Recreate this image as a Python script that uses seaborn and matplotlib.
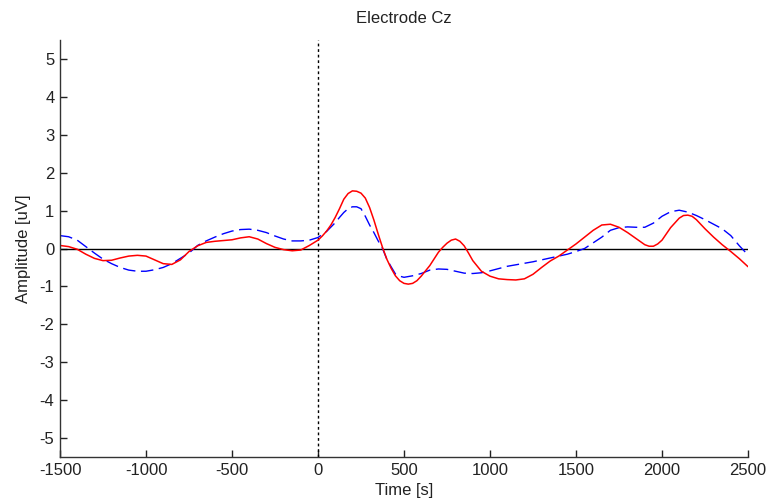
import numpy as np
import pandas as pd
import matplotlib
matplotlib.use("Agg")
import matplotlib.pyplot as plt
import seaborn as sns

red_times = [-1500, -1450, -1400, -1350, -1300, -1250, -1200, -1150, -1100, -1050,
             -1000, -950, -900, -850, -800, -750, -700, -650, -600, -550,
             -500, -450, -400, -350, -300, -250, -200, -150, -100, -50,
             0, 25, 50, 75, 100, 125, 150, 175, 200, 225,
             250, 275, 300, 325, 350, 375, 400, 425, 450, 475,
             500, 525, 550, 575, 600, 650, 700, 725, 750, 775,
             800, 825, 850, 875, 900, 950, 1000, 1050, 1100, 1150,
             1200, 1250, 1300, 1350, 1400, 1450, 1500, 1550, 1600, 1650,
             1700, 1750, 1800, 1850, 1900, 1925, 1950, 1975, 2000, 2050,
             2100, 2125, 2150, 2175, 2200, 2250, 2300, 2350, 2400, 2450,
             2500]
red_vals = [0.08, 0.05, -0.02, -0.15, -0.26, -0.32, -0.31, -0.25, -0.2, -0.18,
            -0.2, -0.3, -0.4, -0.42, -0.3, -0.08, 0.07, 0.16, 0.19, 0.21,
            0.23, 0.28, 0.31, 0.25, 0.13, 0.03, -0.03, -0.06, -0.04, 0.08,
            0.22, 0.33, 0.46, 0.62, 0.82, 1.05, 1.3, 1.45, 1.52, 1.51,
            1.46, 1.33, 1.08, 0.75, 0.38, 0.03, -0.28, -0.52, -0.72, -0.85,
            -0.92, -0.94, -0.92, -0.85, -0.73, -0.45, -0.1, 0.03, 0.14, 0.22,
            0.25, 0.19, 0.07, -0.12, -0.32, -0.6, -0.73, -0.8, -0.82, -0.83,
            -0.8, -0.68, -0.5, -0.33, -0.2, -0.04, 0.12, 0.3, 0.48, 0.62,
            0.64, 0.56, 0.42, 0.26, 0.1, 0.06, 0.06, 0.12, 0.22, 0.55,
            0.8, 0.87, 0.88, 0.85, 0.76, 0.52, 0.3, 0.1, -0.08, -0.27,
            -0.48]

blue_times = [-1500, -1450, -1400, -1350, -1300, -1250, -1200, -1150, -1100, -1050,
              -1000, -950, -900, -850, -800, -750, -700, -650, -600, -550,
              -500, -450, -400, -350, -300, -250, -200, -150, -100, -50,
              0, 50, 100, 125, 150, 175, 200, 225, 250, 275,
              300, 325, 350, 375, 400, 425, 450, 475, 500, 550,
              600, 650, 700, 750, 800, 850, 900, 950, 1000, 1050,
              1100, 1150, 1200, 1250, 1300, 1350, 1400, 1450, 1500, 1550,
              1600, 1650, 1700, 1750, 1800, 1850, 1900, 1950, 2000, 2050,
              2100, 2150, 2200, 2250, 2300, 2350, 2400, 2450, 2500]
blue_vals = [0.34, 0.31, 0.22, 0.05, -0.12, -0.28, -0.4, -0.5, -0.57, -0.6,
             -0.6, -0.56, -0.5, -0.4, -0.26, -0.12, 0.08, 0.2, 0.3, 0.39,
             0.46, 0.5, 0.51, 0.48, 0.42, 0.33, 0.25, 0.2, 0.2, 0.22,
             0.29, 0.45, 0.68, 0.82, 0.95, 1.05, 1.1, 1.1, 1.05, 0.85,
             0.62, 0.42, 0.2, 0.0, -0.28, -0.48, -0.67, -0.73, -0.76, -0.72,
             -0.66, -0.57, -0.54, -0.55, -0.6, -0.65, -0.66, -0.64, -0.59, -0.53,
             -0.47, -0.43, -0.39, -0.35, -0.3, -0.25, -0.2, -0.15, -0.08, 0.0,
             0.15, 0.3, 0.48, 0.55, 0.57, 0.56, 0.56, 0.67, 0.85, 0.97,
             1.01, 0.96, 0.87, 0.76, 0.64, 0.52, 0.34, 0.07, -0.17]

x_ticks = [-1500, -1000, -500, 0, 500, 1000, 1500, 2000, 2500]
y_ticks = [-5, -4, -3, -2, -1, 0, 1, 2, 3, 4, 5]

sns.set_style("white")
plt.rcParams['font.family'] = ['Liberation Sans', 'DejaVu Sans']
plt.rcParams['axes.unicode_minus'] = False

df_red = pd.DataFrame({"time": red_times, "amp": red_vals})
df_blue = pd.DataFrame({"time": blue_times, "amp": blue_vals})

fig = plt.figure(figsize=(7.68, 4.99), dpi=100)
ax = fig.add_axes([60/768, 42/499, 688/768, 417/499])

ax.axhline(0, color="black", lw=1.0, zorder=1)
ax.axvline(0, color="black", lw=1.0, ls=(0, (2, 2)), zorder=1)

sns.lineplot(data=df_blue, x="time", y="amp", ax=ax, color="#0000ff",
             lw=1.0, estimator=None, sort=False)
ax.lines[-1].set_dashes([9, 4])
sns.lineplot(data=df_red, x="time", y="amp", ax=ax, color="#ff0000",
             lw=1.1, estimator=None, sort=False)
for ln in ax.lines[-2:]:
    ln.set_solid_joinstyle("round")
    ln.set_dash_joinstyle("round")

ax.set_xlim(-1500, 2500)
ax.set_ylim(-5.5, 5.5)
ax.set_xticks(x_ticks)
ax.set_yticks(y_ticks)
ax.tick_params(direction="in", length=5, width=1, labelsize=12, colors="#222222",
               pad=4, left=True, bottom=True)
for s in ["top", "right"]:
    ax.spines[s].set_visible(False)
for s in ["left", "bottom"]:
    ax.spines[s].set_color("#333333")
    ax.spines[s].set_linewidth(1.0)

ax.set_xlabel("Time [s]", fontsize=12, color="#222222", labelpad=4)
ax.set_ylabel("Amplitude [uV]", fontsize=12, color="#222222", labelpad=6)
ax.set_title("Electrode Cz", fontsize=12, color="#222222", pad=12)

fig.savefig("out.png", dpi=100)
